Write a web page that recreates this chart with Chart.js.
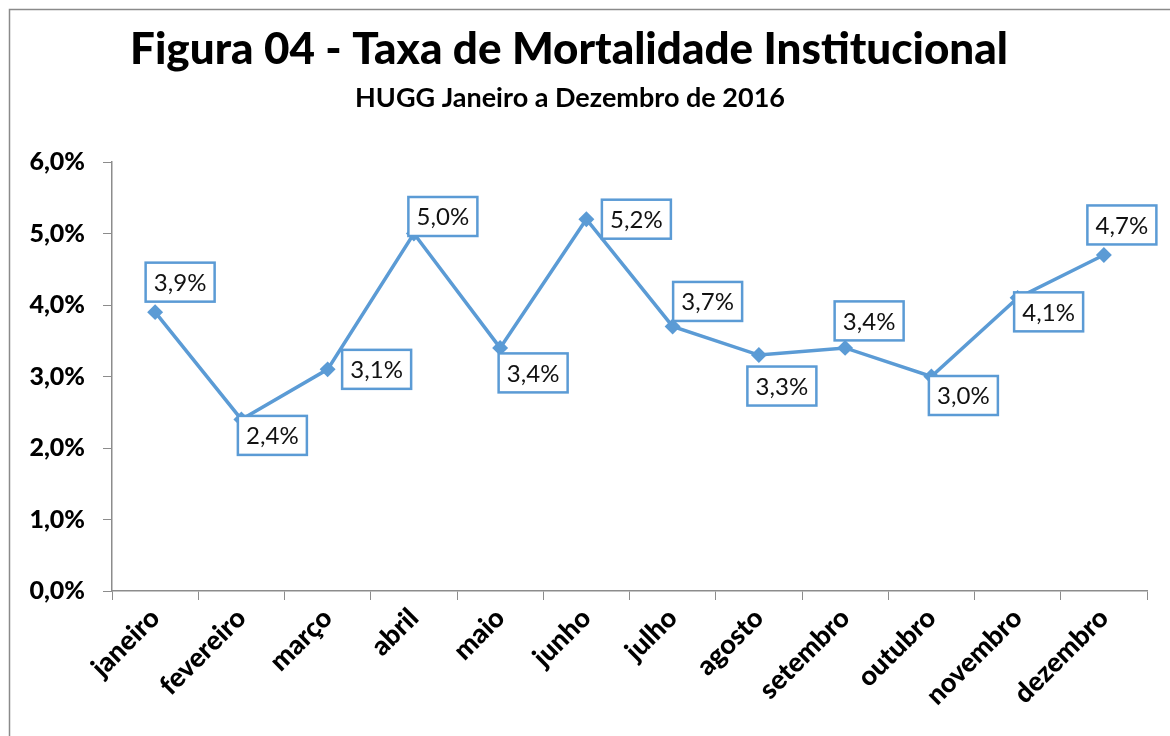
<!DOCTYPE html>
<html>
<head>
<meta charset="utf-8">
<script src="https://cdn.jsdelivr.net/npm/chart.js@4/dist/chart.umd.min.js"></script>
<style>
  html, body { margin: 0; padding: 0; background: #ffffff; }
  #wrap { width: 1170px; height: 736px; }
</style>
</head>
<body>
<div id="wrap"><canvas id="c" width="1170" height="736"></canvas></div>
<script>
// ---- Data ----
const months = ['janeiro', 'fevereiro', 'março', 'abril', 'maio', 'junho',
                'julho', 'agosto', 'setembro', 'outubro', 'novembro', 'dezembro'];
const rates = [3.9, 2.4, 3.1, 5.0, 3.4, 5.2, 3.7, 3.3, 3.4, 3.0, 4.1, 4.7];
const yMin = 0;
const yMax = 6;
const yStep = 1;
const titleText = 'Figura 04 - Taxa de Mortalidade Institucional';
const subtitleText = 'HUGG Janeiro a Dezembro de 2016';

// ---- Styling / placement (not data) ----
const FONT = 'Lato, "Open Sans", "DejaVu Sans", sans-serif';
const LINE_COLOR = '#5B9BD5';
const AXIS_COLOR = '#8C8C8C';
// box-centre offsets of each data label relative to its point
const labelDX = [25, 31, 49, 29, 33, 50, 35, 23, 24, 32, 31, 18];
const labelDY = [-30, 16, 0, -17, 25, 0, -25, 31, -27, 19, 14, -30];

function fmtPct(v) {
  return v.toFixed(1).replace('.', ',') + '%';
}

const frameAndTitles = {
  id: 'frameAndTitles',
  beforeDraw(chart) {
    const ctx = chart.ctx;
    ctx.save();
    ctx.fillStyle = '#ffffff';
    ctx.fillRect(0, 0, chart.width, chart.height);
    ctx.strokeStyle = '#8a8a8a';
    ctx.lineWidth = 1.5;
    ctx.strokeRect(9.5, 9.5, chart.width + 20, chart.height + 20);
    ctx.restore();
  },
  afterDraw(chart) {
    const ctx = chart.ctx;
    ctx.save();
    ctx.fillStyle = '#000000';
    ctx.textAlign = 'center';
    ctx.textBaseline = 'alphabetic';
    // title fitted to the reference width
    let size = 44;
    ctx.font = '900 ' + size + 'px ' + FONT;
    let w = ctx.measureText(titleText).width;
    size = Math.min(47, size * 878 / w);
    ctx.font = '900 ' + size + 'px ' + FONT;
    ctx.fillText(titleText, 569, 64);
    let s2 = 24;
    ctx.font = 'bold ' + s2 + 'px ' + FONT;
    w = ctx.measureText(subtitleText).width;
    s2 = Math.min(27, s2 * 464 / w);
    ctx.font = 'bold ' + s2 + 'px ' + FONT;
    ctx.fillText(subtitleText, 570, 107);
    ctx.restore();
  }
};

const boxedLabels = {
  id: 'boxedLabels',
  afterDatasetsDraw(chart) {
    const ctx = chart.ctx;
    const meta = chart.getDatasetMeta(0);
    const ds = chart.data.datasets[0];
    ctx.save();
    ctx.font = '24px ' + FONT;
    ctx.textAlign = 'center';
    ctx.textBaseline = 'middle';
    meta.data.forEach((pt, i) => {
      const cx = pt.x + labelDX[i];
      const cy = pt.y + labelDY[i];
      const bw = 69, bh = 39;
      ctx.fillStyle = '#ffffff';
      ctx.fillRect(cx - bw / 2, cy - bh / 2, bw, bh);
      ctx.strokeStyle = LINE_COLOR;
      ctx.lineWidth = 2.5;
      ctx.strokeRect(cx - bw / 2, cy - bh / 2, bw, bh);
      ctx.fillStyle = '#111111';
      ctx.fillText(fmtPct(ds.data[i]), cx, cy + 1);
    });
    ctx.restore();
  }
};

new Chart(document.getElementById('c'), {
  type: 'line',
  data: {
    labels: months,
    datasets: [{
      data: rates,
      borderColor: LINE_COLOR,
      backgroundColor: LINE_COLOR,
      borderWidth: 3.5,
      pointStyle: 'rectRot',
      pointRadius: 5.5,
      pointHoverRadius: 5.5,
      pointBackgroundColor: LINE_COLOR,
      pointBorderColor: LINE_COLOR,
      tension: 0,
      fill: false
    }]
  },
  options: {
    responsive: false,
    devicePixelRatio: 1,
    animation: false,
    events: [],
    layout: { padding: { left: 0, top: 162, right: 23, bottom: 0 } },
    plugins: {
      legend: { display: false },
      title: { display: false },
      tooltip: { enabled: false }
    },
    scales: {
      x: {
        type: 'category',
        offset: true,
        grid: {
          offset: true,
          drawOnChartArea: false,
          drawTicks: true,
          tickLength: 9,
          color: AXIS_COLOR,
          lineWidth: 1
        },
        border: { display: true, color: AXIS_COLOR, width: 1.5 },
        ticks: {
          minRotation: 45,
          maxRotation: 45,
          autoSkip: false,
          padding: 2,
          color: '#000000',
          font: { family: FONT, size: 27, weight: '900' }
        },
        afterFit(scale) { scale.height = 145; }
      },
      y: {
        min: yMin,
        max: yMax,
        grid: {
          drawOnChartArea: false,
          drawTicks: true,
          tickLength: 9,
          color: AXIS_COLOR,
          lineWidth: 1
        },
        border: { display: true, color: AXIS_COLOR, width: 1.5 },
        ticks: {
          stepSize: yStep,
          padding: 18,
          color: '#000000',
          font: { family: FONT, size: 25, weight: '900' },
          callback: (v) => fmtPct(v)
        },
        afterFit(scale) { scale.width = 112; }
      }
    }
  },
  plugins: [frameAndTitles, boxedLabels]
});
</script>
</body>
</html>
